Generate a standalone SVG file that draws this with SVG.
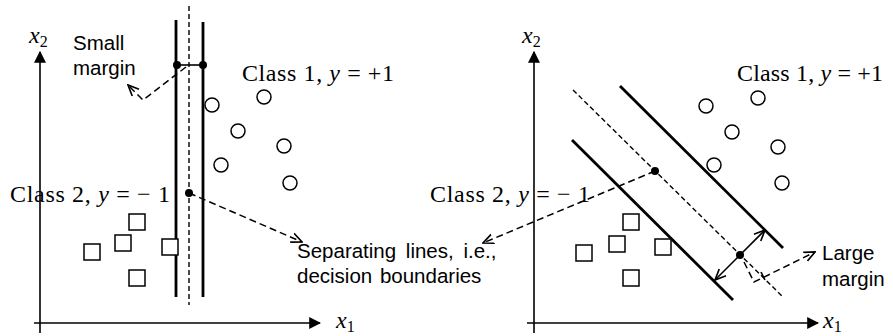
<svg xmlns="http://www.w3.org/2000/svg" width="893" height="336" viewBox="0 0 893 336">
<style>
.ax{stroke:#000;stroke-width:1.6;fill:none}
.bd{stroke:#000;stroke-width:2.8;fill:none}
.md{stroke:#000;stroke-width:1.4;fill:none;stroke-dasharray:5 3}
.ds{stroke:#000;stroke-width:1.5;fill:none;stroke-dasharray:7 4}
.th{stroke:#000;stroke-width:1.6;fill:none}
.pt circle{fill:#fff;stroke:#000;stroke-width:1.5}
.pt rect{fill:#fff;stroke:#000;stroke-width:1.5}
.dot{fill:#000}
.serif{font-family:"Liberation Serif","Times New Roman",serif;font-size:24px;fill:#000}
.sans{font-family:"Liberation Sans",Arial,sans-serif;font-size:20.5px;fill:#000}
.it{font-style:italic}
.sub{font-size:16px}
</style>
<defs>
<marker id="tri" viewBox="0 0 10 10" refX="9" refY="5" markerWidth="12" markerHeight="12" markerUnits="userSpaceOnUse" orient="auto">
<path d="M0,0 L10,5 L0,10 z" fill="#000"/>
</marker>
<marker id="open" viewBox="0 0 10 10" refX="9" refY="5" markerWidth="12" markerHeight="12" markerUnits="userSpaceOnUse" orient="auto">
<path d="M0,1 L9,5 L0,9" fill="none" stroke="#000" stroke-width="1.4"/>
</marker>
</defs>

<!-- Left panel -->
<g id="left-axes">
<line class="ax" x1="40" y1="333" x2="40" y2="52" marker-end="url(#tri)"/>
<line class="ax" x1="34" y1="323" x2="320" y2="323" marker-end="url(#tri)"/>
<text class="serif it" x="29" y="43">x<tspan class="sub" dy="4" font-style="normal">2</tspan></text>
<text class="serif it" x="336" y="328">x<tspan class="sub" dy="4" font-style="normal">1</tspan></text>
</g>
<g id="left-boundaries">
<line class="bd" x1="176" y1="20" x2="176" y2="297"/>
<line class="bd" x1="203" y1="22" x2="203" y2="297"/>
<line class="md" x1="189" y1="6" x2="189" y2="305"/>
<line class="th" x1="177" y1="65" x2="203" y2="65"/>
<circle class="dot" cx="177" cy="65" r="4"/>
<circle class="dot" cx="203" cy="65" r="4"/>
<circle class="dot" cx="189" cy="193" r="4"/>
</g>
<g id="left-class1" class="pt">
<circle cx="212" cy="105" r="7"/>
<circle cx="264" cy="97" r="7"/>
<circle cx="238" cy="131" r="7"/>
<circle cx="284" cy="146" r="7"/>
<circle cx="221" cy="165" r="7"/>
<circle cx="290" cy="183" r="7"/>
</g>
<g id="left-class2" class="pt">
<rect x="129" y="214" width="16" height="16"/>
<rect x="115" y="235" width="16" height="16"/>
<rect x="84" y="244" width="16" height="16"/>
<rect x="162" y="239" width="16" height="16"/>
<rect x="129" y="270" width="16" height="16"/>
</g>
<g id="left-labels">
<text class="sans" x="73" y="50">Small</text>
<text class="sans" x="73" y="75">margin</text>
<text class="serif" x="242" y="81" textLength="152" lengthAdjust="spacing">Class 1, <tspan class="it">y</tspan> = +1</text>
<text class="serif" x="10" y="202" textLength="160" lengthAdjust="spacing">Class 2, <tspan class="it">y</tspan> = − 1</text>
<text class="sans" x="297" y="258" word-spacing="4">Separating lines, i.e.,</text>
<text class="sans" x="297" y="283" word-spacing="2">decision boundaries</text>
</g>

<!-- Right panel -->
<g id="right-axes">
<line class="ax" x1="534" y1="333" x2="534" y2="52" marker-end="url(#tri)"/>
<line class="ax" x1="527" y1="323" x2="818" y2="323" marker-end="url(#tri)"/>
<text class="serif it" x="522" y="43">x<tspan class="sub" dy="4" font-style="normal">2</tspan></text>
<text class="serif it" x="823" y="328">x<tspan class="sub" dy="4" font-style="normal">1</tspan></text>
</g>
<g id="right-boundaries">
<line class="bd" x1="620" y1="86" x2="783" y2="248"/>
<line class="md" x1="573" y1="90" x2="782" y2="296"/>
<line class="bd" x1="572" y1="140" x2="733" y2="300"/>
<circle class="dot" cx="655" cy="171" r="4"/>
<circle class="dot" cx="740" cy="255" r="4"/>
</g>
<g id="right-class1" class="pt">
<circle cx="706" cy="106" r="7"/>
<circle cx="758" cy="98" r="7"/>
<circle cx="732" cy="132" r="7"/>
<circle cx="778" cy="147" r="7"/>
<circle cx="714" cy="165" r="7"/>
<circle cx="782" cy="183" r="7"/>
</g>
<g id="right-class2" class="pt">
<rect x="623" y="214" width="16" height="16"/>
<rect x="609" y="236" width="16" height="16"/>
<rect x="576" y="245" width="16" height="16"/>
<rect x="655" y="239" width="16" height="16"/>
<rect x="623" y="270" width="16" height="16"/>
</g>
<g id="right-labels">
<text class="serif" x="737" y="81" textLength="146" lengthAdjust="spacing">Class 1, <tspan class="it">y</tspan> = +1</text>
<text class="serif" x="430" y="202" textLength="160" lengthAdjust="spacing">Class 2, <tspan class="it">y</tspan> = − 1</text>
<text class="sans" x="822" y="260">Large</text>
<text class="sans" x="822" y="286">margin</text>
</g>

<g id="connectors">
<path class="ds" d="M186,67 L143,100 L128,85" marker-end="url(#open)"/>
<path class="ds" d="M189,193 L302,242" marker-end="url(#open)"/>
<path class="ds" d="M655,171 L483,243" marker-end="url(#open)"/>
<line class="th" x1="740" y1="255" x2="765" y2="230" marker-end="url(#open)"/>
<line class="th" x1="740" y1="255" x2="715" y2="280" marker-end="url(#open)"/>
<path class="ds" d="M744,262 L754,282 L815,252" marker-end="url(#open)"/>
<path class="th" d="M761,272 L765,280" stroke-width="1.2"/>
</g>
</svg>
